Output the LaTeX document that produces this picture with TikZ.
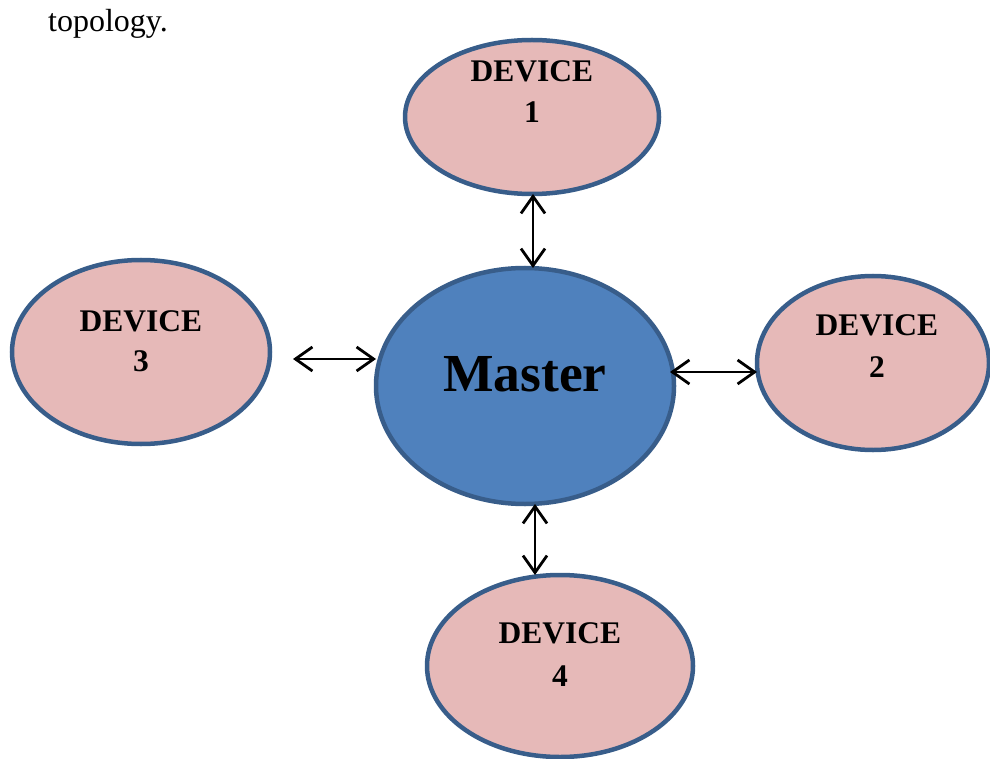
\documentclass[tikz,border=0pt]{standalone}
\usepackage{fontspec}
\setmainfont{Liberation Serif}
\usetikzlibrary{shapes.geometric,arrows.meta,calc}
\definecolor{devfill}{HTML}{E6B9B8}
\definecolor{mastfill}{HTML}{4F81BD}
\definecolor{rim}{HTML}{385D8A}

\begin{document}
\begin{tikzpicture}[x=1pt,y=-1pt,
  blob/.style={ellipse, draw=rim, line width=4.5pt, inner sep=0pt, outer sep=0pt},
  device/.style={blob, fill=devfill},
  master/.style={blob, fill=mastfill},
  lbl/.style={font=\bfseries\fontsize{31.5}{31.5}\selectfont, anchor=base, inner sep=0pt},
  link/.style={{Straight Barb[length=17pt,width=24pt]}-{Straight Barb[length=17pt,width=24pt]}, line width=2.8pt}]

\useasboundingbox (0,0) rectangle (990,759);

% heading word
\node[anchor=base west, inner sep=0pt, font=\fontsize{32}{32}\selectfont] (head) at (48,32) {topology.};

% ellipses
\node[device, minimum width=254pt, minimum height=154pt] (d1) at (532,117) {};
\node[master, minimum width=298pt, minimum height=236pt] (m) at (525,386) {};
\node[device, minimum width=258pt, minimum height=184pt] (d3) at (141,352) {};
\node[device, minimum width=232pt, minimum height=174pt] (d2) at (873,363) {};
\node[device, minimum width=266pt, minimum height=182pt] (d4) at (560,666) {};

% labels
\node[lbl] (d1a) at ($(d1)+(0,-35)$) {DEVICE};
\node[lbl] (d1b) at ($(d1)+(0,6)$) {1};
\node[lbl] (d3a) at ($(d3)+(0,-21)$) {DEVICE};
\node[lbl] (d3b) at ($(d3)+(0,19)$) {3};
\node[lbl] (d2a) at ($(d2)+(4,-28)$) {DEVICE};
\node[lbl] (d2b) at ($(d2)+(4,14)$) {2};
\node[lbl] (d4a) at ($(d4)+(0,-23)$) {DEVICE};
\node[lbl] (d4b) at ($(d4)+(0,20)$) {4};
\node[anchor=base, inner sep=0pt, font=\bfseries\fontsize{53.5}{53.5}\selectfont] (mt) at ($(m)+(0,5)$) {Master};

% connectors
\coordinate (ta) at ($(d1.south)+(1,0)$);
\draw[link] (ta) -- (ta |- m.north);
\coordinate (la) at ($(d3.east)+(23,7)$);
\draw[link] (la) -- (la -| m.west);
\coordinate (ra) at ($(m.east)+(-4,-14)$);
\draw[link] (ra) -- (ra -| d2.west);
\coordinate (ba) at ($(m.south)+(10,0)$);
\draw[link] (ba) -- (ba |- d4.north);
\end{tikzpicture}
\end{document}
